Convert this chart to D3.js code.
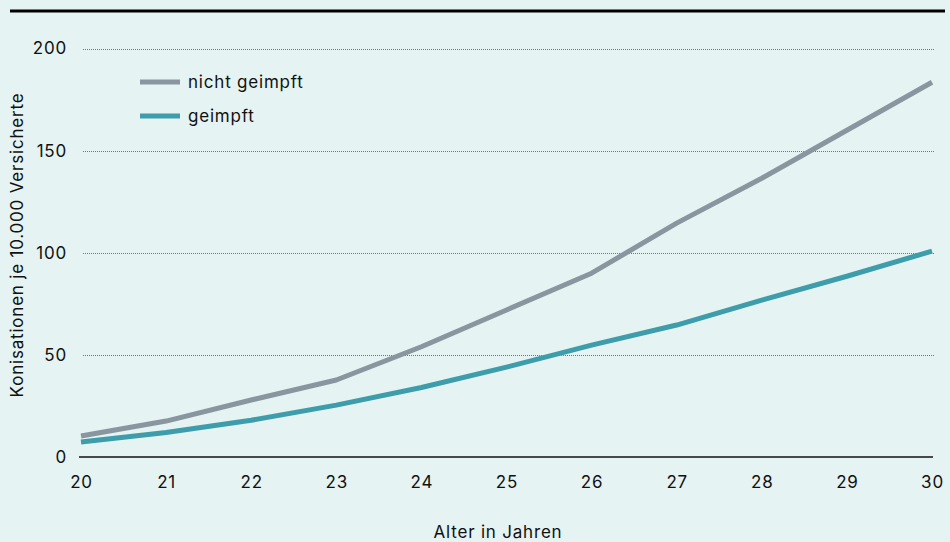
<!DOCTYPE html>
<html lang="de">
<head>
<meta charset="utf-8">
<script src="https://cdn.jsdelivr.net/npm/d3@7"></script>
<style>
  html, body { margin: 0; padding: 0; background: #e5f3f2; }
  svg { display: block; font-family: Inter, "Noto Sans", sans-serif; letter-spacing: 0.8px; }
</style>
</head>
<body>
<svg id="chart" width="950" height="542"></svg>
<script>
// Alter in Jahren
const ages = [20, 21, 22, 23, 24, 25, 26, 27, 28, 29, 30];
// Konisationen je 10.000 Versicherte
const ungeimpft = [10.3, 17.6, 27.9, 37.7, 54, 72, 90, 114.5, 136.5, 160, 183.5];
const geimpft   = [7.3, 12, 18, 25.4, 34, 44, 54.8, 64.6, 76.8, 88.5, 100.8];
const yTicks = [0, 50, 100, 150, 200];
const seriesNames = ["nicht geimpft", "geimpft"];
const seriesColors = ["#89969f", "#3e9daa"];

const svg = d3.select("#chart");
const fontFamily = "Inter, 'Noto Sans', sans-serif";

const x = d3.scaleLinear().domain([20, 30]).range([81, 932]);
const y = d3.scaleLinear().domain([0, 200]).range([457, 48.5]);

// top rule
svg.append("rect").attr("x", 10).attr("y", 9.5).attr("width", 935).attr("height", 3).attr("fill", "#000");

// dotted gridlines
svg.append("g").selectAll("line")
  .data(yTicks.filter(d => d > 0))
  .join("line")
  .attr("x1", 83).attr("x2", 935)
  .attr("y1", d => Math.round(y(d)) + 0.5).attr("y2", d => Math.round(y(d)) + 0.5)
  .attr("stroke", "#6f7778").attr("stroke-width", 1).attr("stroke-dasharray", "1,1");

// y axis labels
const yAxis = d3.axisLeft(y).tickValues(yTicks).tickSize(0).tickPadding(0);
const gy = svg.append("g").attr("transform", "translate(67,0)").call(yAxis);
gy.select(".domain").remove();
gy.selectAll("text").attr("font-size", 17).attr("fill", "#111").attr("font-family", fontFamily);

// x axis labels
const xAxis = d3.axisBottom(x).tickValues(ages).tickFormat(d3.format("d")).tickSize(0).tickPadding(0);
const gx = svg.append("g").attr("transform", "translate(0,476)").call(xAxis);
gx.select(".domain").remove();
gx.selectAll("text").attr("font-size", 17).attr("fill", "#111").attr("font-family", fontFamily);

// zero line
svg.append("line")
  .attr("x1", 79).attr("x2", 933)
  .attr("y1", y(0)).attr("y2", y(0))
  .attr("stroke", "#111").attr("stroke-width", 1.5);

// series lines
const line = d3.line().x((d, i) => x(ages[i])).y(d => y(d));
[ungeimpft, geimpft].forEach((vals, k) => {
  svg.append("path")
    .datum(vals)
    .attr("d", line)
    .attr("fill", "none")
    .attr("stroke", seriesColors[k])
    .attr("stroke-width", 5)
    .attr("stroke-linejoin", "round");
});

// legend
const legend = svg.append("g").attr("transform", "translate(140,82)");
seriesNames.forEach((name, k) => {
  const g = legend.append("g").attr("transform", `translate(0,${k * 34})`);
  g.append("line").attr("x1", 0).attr("x2", 40).attr("y1", 0).attr("y2", 0)
    .attr("stroke", seriesColors[k]).attr("stroke-width", 5);
  g.append("text").attr("x", 48).attr("y", 6)
    .attr("font-size", 17).attr("fill", "#111").text(name);
});

// axis titles
svg.append("text")
  .attr("transform", "translate(23,245) rotate(-90)")
  .attr("text-anchor", "middle")
  .attr("font-size", 17).attr("fill", "#111")
  .text("Konisationen je 10.000 Versicherte");

svg.append("text")
  .attr("x", 498).attr("y", 538)
  .attr("text-anchor", "middle")
  .attr("font-size", 17).attr("fill", "#111")
  .text("Alter in Jahren");
</script>
</body>
</html>
